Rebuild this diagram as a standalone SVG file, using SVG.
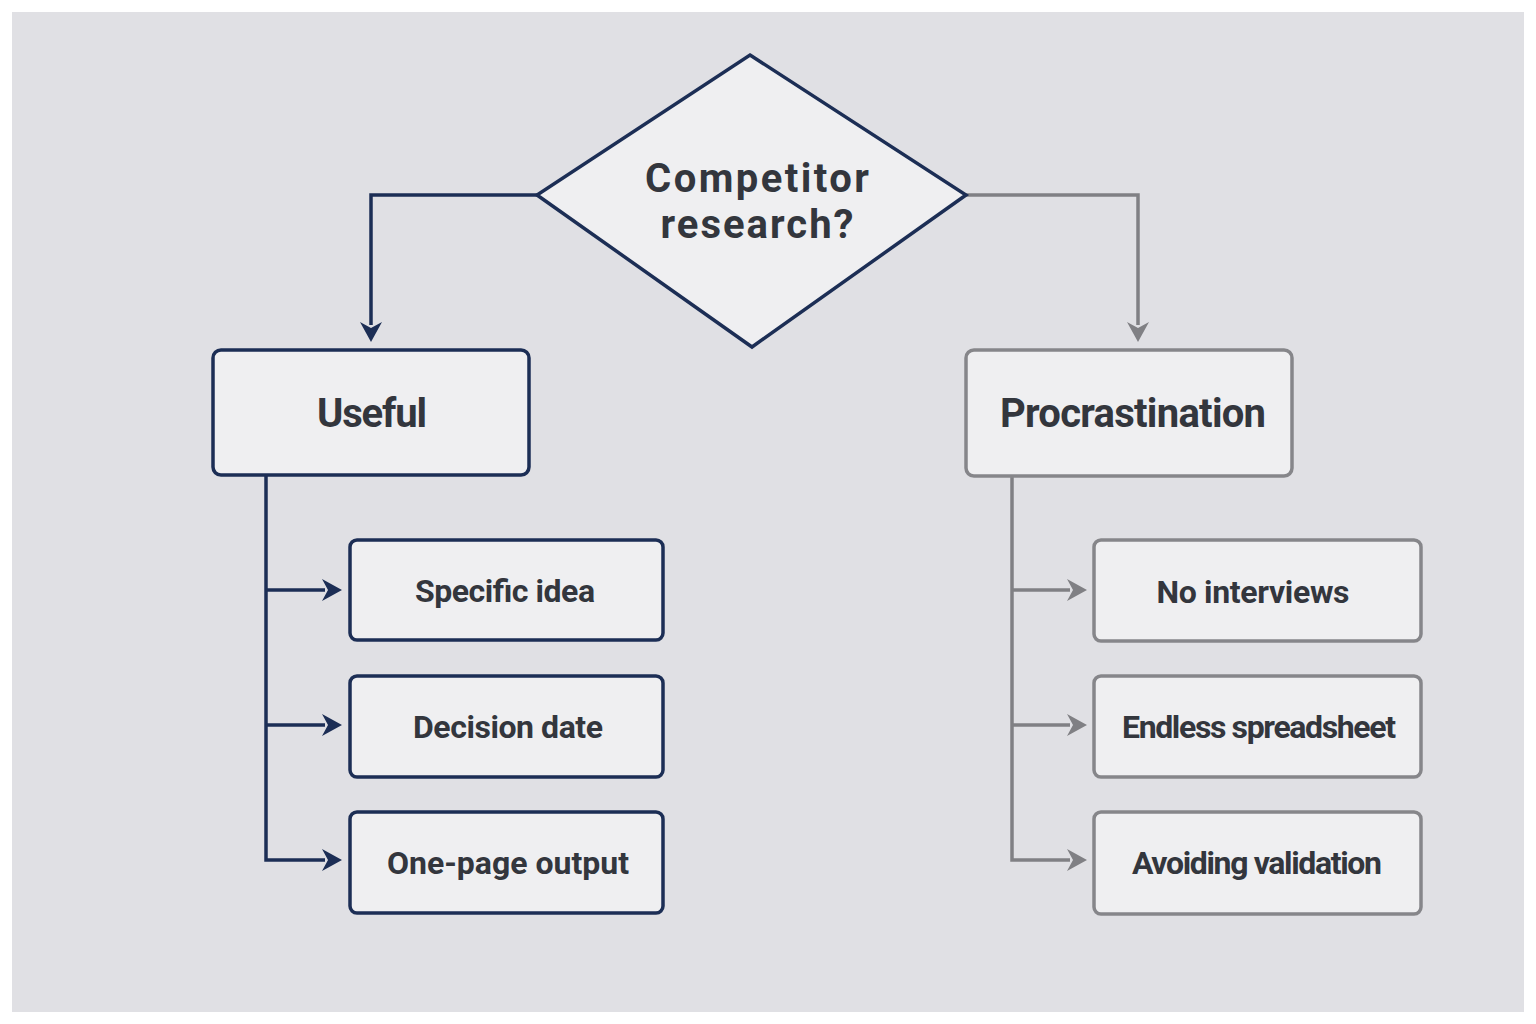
<svg xmlns="http://www.w3.org/2000/svg" width="1536" height="1024" viewBox="0 0 1536 1024">
<defs>
<style>
.t{font-family:Roboto,"Liberation Sans",sans-serif;font-weight:700;fill:#33363d;text-anchor:middle;dominant-baseline:central;lengthAdjust:spacingAndGlyphs}
.n{fill:#efeff1;stroke:#1c2e55;stroke-width:3.5}
.g{fill:#efeff1;stroke:#86868a;stroke-width:3.5}
.cn{fill:none;stroke:#1c2e55;stroke-width:3.5}
.cg{fill:none;stroke:#808084;stroke-width:3.5}
</style>
<marker id="an" viewBox="0 0 10 10" refX="9" refY="5" markerWidth="6" markerHeight="6" orient="auto" markerUnits="userSpaceOnUse" style="overflow:visible"><path d="M0,0L10,5L0,10L3,5z" fill="#1c2e55" transform="scale(2.2) translate(-5,-0)"/></marker>
<marker id="ag" viewBox="0 0 10 10" refX="9" refY="5" markerWidth="6" markerHeight="6" orient="auto" markerUnits="userSpaceOnUse" style="overflow:visible"><path d="M0,0L10,5L0,10L3,5z" fill="#808084" transform="scale(2.2) translate(-5,-0)"/></marker>
</defs>
<rect width="1536" height="1024" fill="#fff"/>
<rect x="12" y="12" width="1512" height="1000" fill="#e0e0e4"/>
<g id="connectors">
<path class="cn" d="M537,195H371V325"/><path d="M360,322L371,342L382,322L371,328z" fill="#1c2e55"/>
<path class="cg" d="M966,195H1138V325"/><path d="M1127,322L1138,342L1149,322L1138,328z" fill="#808084"/>
<path class="cn" d="M266,475V860H325M266,590H325M266,725H325"/>
<path d="M322,579L342,590L322,601L328,590zM322,714L342,725L322,736L328,725zM322,849L342,860L322,871L328,860z" fill="#1c2e55"/>
<path class="cg" d="M1012,476V860H1070M1012,590H1070M1012,725H1070"/>
<path d="M1067,579L1087,590L1067,601L1073,590zM1067,714L1087,725L1067,736L1073,725zM1067,849L1087,860L1067,871L1073,860z" fill="#808084"/>
</g>
<g id="decision"><path class="n" d="M750,55L966,195L752,347L537,195z"/>
<text class="t" x="757" y="178" font-size="40" textLength="224">Competitor</text>
<text class="t" x="757" y="224" font-size="40" textLength="193">research?</text></g>
<g id="useful"><rect class="n" x="213" y="350" width="316" height="125" rx="8"/><text class="t" x="372" y="413" font-size="40" textLength="110">Useful</text></g>
<g id="procrastination"><rect class="g" x="966" y="350" width="326" height="126" rx="8"/><text class="t" x="1133" y="413" font-size="40" textLength="266">Procrastination</text></g>
<g id="specific"><rect class="n" x="350" y="540" width="313" height="100" rx="7"/><text class="t" x="505" y="591" font-size="32" textLength="180">Specific idea</text></g>
<g id="decisiondate"><rect class="n" x="350" y="676" width="313" height="101" rx="7"/><text class="t" x="508" y="727" font-size="32" textLength="190">Decision date</text></g>
<g id="onepage"><rect class="n" x="350" y="812" width="313" height="101" rx="7"/><text class="t" x="508" y="863" font-size="32" textLength="242">One-page output</text></g>
<g id="nointerviews"><rect class="g" x="1094" y="540" width="327" height="101" rx="7"/><text class="t" x="1253" y="592" font-size="32" textLength="193">No interviews</text></g>
<g id="endless"><rect class="g" x="1094" y="676" width="327" height="101" rx="7"/><text class="t" x="1259" y="727" font-size="32" textLength="274">Endless spreadsheet</text></g>
<g id="avoiding"><rect class="g" x="1094" y="812" width="327" height="102" rx="7"/><text class="t" x="1257" y="863" font-size="32" textLength="250">Avoiding validation</text></g>
</svg>
